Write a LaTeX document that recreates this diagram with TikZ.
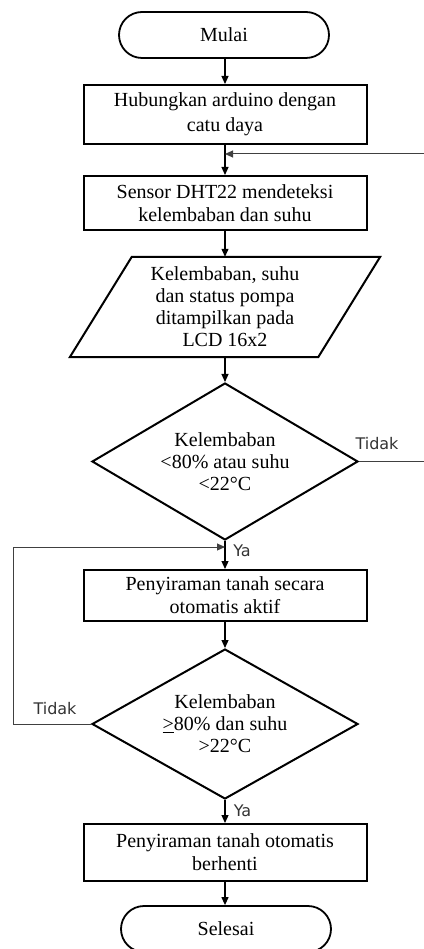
\documentclass[tikz,border=0pt]{standalone}
\usepackage{fontspec}
\setmainfont{Liberation Serif}
\newfontfamily\lblfont{DejaVu Sans}
\usetikzlibrary{arrows.meta,shapes.geometric,calc}
\begin{document}
\begin{tikzpicture}[x=1pt,y=-1pt,
  txt/.style={font=\fontsize{20}{23}\selectfont},
  box/.style={txt,draw,line width=2pt,minimum width=283pt,inner sep=0pt,align=center},
  term/.style={txt,draw,line width=1.8pt,rounded corners=23pt,minimum width=210pt,minimum height=46pt,inner sep=0pt},
  dec/.style={draw,diamond,line width=2pt,minimum width=266pt,inner sep=0pt,aspect=1.7,align=center,font=\fontsize{20}{22}\selectfont},
  flow/.style={line width=1.2pt,-{Triangle[length=8pt,width=7pt]}},
  back/.style={line width=1pt,draw=black!75,-{Triangle[length=8pt,width=7pt]}},
  lbl/.style={font=\lblfont\fontsize{16}{18}\selectfont,text=black!80,inner sep=0pt}
]
\useasboundingbox (0,0) rectangle (423,949);
\node[term] (start) at (224,35) {Mulai};
\node[box,minimum height=59pt,font=\fontsize{20}{25}\selectfont] (b1) at (225,114.5) {Hubungkan arduino dengan\\catu daya};
\node[box,minimum height=54pt] (b2) at (225,203) {Sensor DHT22 mendeteksi\\kelembaban dan suhu};
\node[txt,align=center,inner sep=0pt,minimum width=248pt,minimum height=100pt,font=\fontsize{20}{22}\selectfont] (io) at (225,307) {Kelembaban, suhu\\dan status pompa\\ditampilkan pada\\LCD 16x2};
\draw[line width=2pt] ($(io.north west)+(31,0)$) -- ($(io.north east)+(31,0)$) -- ($(io.south east)+(-31,0)$) -- ($(io.south west)+(-31,0)$) -- cycle;
\node[dec,minimum height=157pt] (d1) at (225,461.5) {Kelembaban\\<80\% atau suhu\\<22°C};
\node[box,minimum height=51pt] (b3) at (225,595.5) {Penyiraman tanah secara\\otomatis aktif};
\node[dec,minimum height=150pt] (d2) at (225,724) {Kelembaban\\\underline{>}80\% dan suhu\\>22°C};
\node[box,minimum height=57pt] (b4) at (225,852.5) {Penyiraman tanah otomatis\\berhenti};
\node[term] (end) at (226,929) {Selesai};
\coordinate (j1) at (225,154);
\coordinate (j2) at (225,547);
\draw[flow] (start.south -| b1) -- (b1);
\draw[flow] (b1) -- (b2);
\draw[flow] (b2) -- (io);
\draw[flow] (io) -- (d1);
\draw[flow] (d1) -- (b3);
\draw[flow] (b3) -- (d2);
\draw[flow] (d2) -- (b4);
\draw[flow] (b4) -- (b4 |- end.north);
\draw[back] (d1.east) -- ++(70,0) |- (j1);
\draw[back] (d2.west) -- ++(-78,0) |- (j2);
\node[lbl] (t1) at (377,444) {Tidak};
\node[lbl] (t2) at (55,708.5) {Tidak};
\node[lbl] (y1) at (242,551) {Ya};
\node[lbl] (y2) at (242.5,811) {Ya};
\end{tikzpicture}
\end{document}
